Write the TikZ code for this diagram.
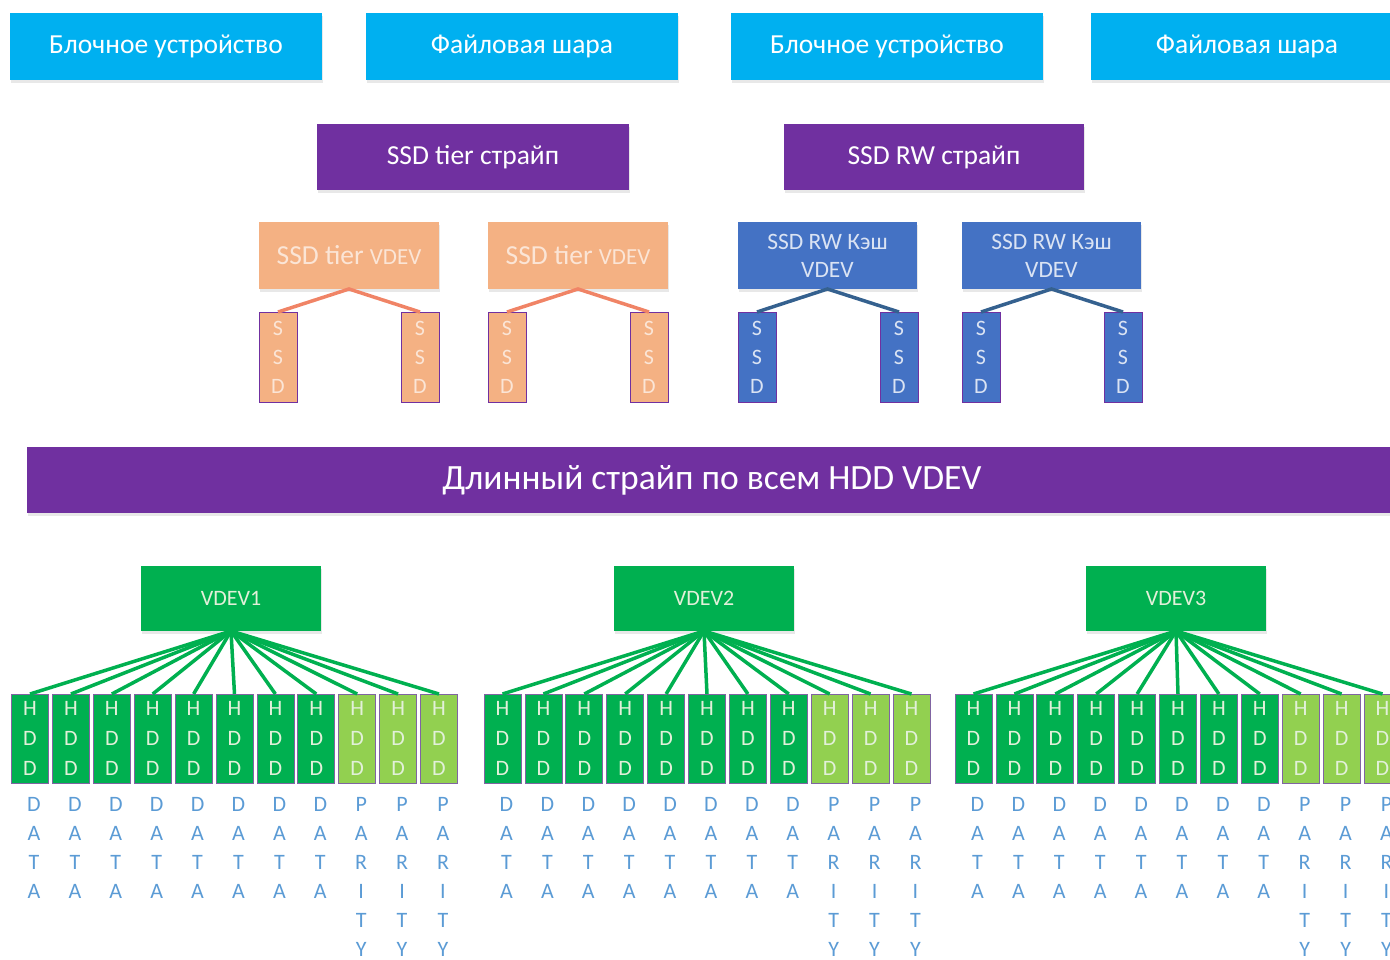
\documentclass[tikz,border=0pt]{standalone}
\usepackage{fontspec}
\setmainfont{Carlito}
\usetikzlibrary{shadows}
\definecolor{topblue}{HTML}{00B0F0}
\definecolor{purp}{HTML}{7030A0}
\definecolor{orng}{HTML}{F4B183}
\definecolor{orngline}{HTML}{F08466}
\definecolor{ssdblue}{HTML}{4472C4}
\definecolor{blueline}{HTML}{35618F}
\definecolor{grn}{HTML}{00B050}
\definecolor{lgrn}{HTML}{92D050}
\definecolor{lblblue}{HTML}{5B9BD5}
\definecolor{paleg}{HTML}{E2F0D9}
\definecolor{paleo}{HTML}{FBE5D6}
\definecolor{paleb}{HTML}{DAE3F3}
\definecolor{hddborder}{HTML}{8064A2}
\begin{document}
\begin{tikzpicture}[x=1pt,y=-1pt,
  box/.style={inner sep=0pt, outer sep=0pt, anchor=north west, align=center, text=white,
    drop shadow={shadow xshift=1pt, shadow yshift=-3pt, opacity=0.18}},
  topbox/.style={box, fill=topblue, minimum width=312pt, minimum height=67pt, font=\fontsize{27.5}{30}\selectfont},
  stripe/.style={box, fill=purp, minimum height=66pt, font=\fontsize{27.5}{30}\selectfont},
  tiervdev/.style={box, fill=orng, text=paleo, minimum width=180pt, minimum height=67pt},
  rwvdev/.style={box, fill=ssdblue, text=paleb, minimum width=179pt, minimum height=67pt, font=\fontsize{23.5}{28}\selectfont},
  ssdbox/.style={inner sep=0pt, outer sep=0pt, anchor=north west, align=center, draw=purp, line width=1pt,
    minimum width=38pt, minimum height=90pt, font=\fontsize{22}{29}\selectfont},
  tierssd/.style={ssdbox, fill=orng, text=paleo},
  rwssd/.style={ssdbox, fill=ssdblue, text=paleb},
  vdevbox/.style={box, fill=grn, text=paleg, minimum width=180pt, minimum height=65pt, font=\fontsize{22}{26}\selectfont},
  hddbox/.style={inner sep=0pt, outer sep=0pt, anchor=north west, align=center, draw=hddborder, line width=0.8pt,
    minimum width=37pt, minimum height=89pt, text=paleg, font=\fontsize{22}{30}\selectfont},
  hdddata/.style={hddbox, fill=grn},
  hddpar/.style={hddbox, fill=lgrn},
  lbl/.style={inner sep=0pt, outer sep=0pt, anchor=north, align=center, text=lblblue, font=\fontsize{22}{29}\selectfont},
  tline/.style={orngline, line width=3.5pt},
  rline/.style={blueline, line width=3.5pt},
  gline/.style={grn, line width=3.5pt}
]
\useasboundingbox (0,0) rectangle (1390,960);
\clip (0,0) rectangle (1390,960);

% top row
\node[topbox] (bd1) at (10,13) {Блочное устройство};
\node[topbox] (fs1) at (366,13) {Файловая шара};
\node[topbox] (bd2) at (731,13) {Блочное устройство};
\node[topbox] (fs2) at (1091,13) {Файловая шара};

% stripes
\node[stripe, minimum width=312pt] (tierstripe) at (317,124) {SSD tier страйп};
\node[stripe, minimum width=300pt] (rwstripe) at (784,124) {SSD RW страйп};

% SSD tier vdevs
\node[tiervdev] (tv1) at (259,222) {\fontsize{27.5}{30}\selectfont SSD tier \fontsize{23}{30}\selectfont VDEV};
\node[tiervdev] (tv2) at (488,222) {\fontsize{27.5}{30}\selectfont SSD tier \fontsize{23}{30}\selectfont VDEV};
\node[rwvdev] (rv1) at (738,222) {SSD RW Кэш\\VDEV};
\node[rwvdev] (rv2) at (962,222) {SSD RW Кэш\\VDEV};

% SSDs
\node[tierssd] (ts1) at (259,312) {S\\S\\D};
\node[tierssd] (ts2) at (401,312) {S\\S\\D};
\node[tierssd] (ts3) at (488,312) {S\\S\\D};
\node[tierssd] (ts4) at (630,312) {S\\S\\D};
\node[rwssd] (rs1) at (738,312) {S\\S\\D};
\node[rwssd] (rs2) at (880,312) {S\\S\\D};
\node[rwssd] (rs3) at (962,312) {S\\S\\D};
\node[rwssd] (rs4) at (1104,312) {S\\S\\D};

\draw[tline] (ts1.north) -- (tv1.south) -- (ts2.north);
\draw[tline] (ts3.north) -- (tv2.south) -- (ts4.north);
\draw[rline] (rs1.north) -- (rv1.south) -- (rs2.north);
\draw[rline] (rs3.north) -- (rv2.south) -- (rs4.north);

% long stripe
\node[stripe, minimum width=1370pt, minimum height=66pt, font=\fontsize{35.5}{40}\selectfont] (long) at (27,447) {Длинный страйп по всем HDD VDEV};

% VDEVs
\node[vdevbox] (v1) at (141,566) {VDEV1};
\node[vdevbox] (v2) at (614,566) {VDEV2};
\node[vdevbox] (v3) at (1086,566) {VDEV3};

% HDDs
\foreach \g/\gx in {1/11.5, 2/484, 3/955} {
  \foreach \i in {0,...,10} {
    \pgfmathsetmacro\xx{\gx+40.9*\i}
    \ifnum\i<8
      \node[hdddata] (h\g-\i) at (\xx,694) {H\\D\\D};
      \node[lbl] (l\g-\i) at ([xshift=4pt,yshift=-14pt]h\g-\i.south) {D\\A\\T\\A};
    \else
      \node[hddpar] (h\g-\i) at (\xx,694) {H\\D\\D};
      \node[lbl] (l\g-\i) at ([xshift=4pt,yshift=-14pt]h\g-\i.south) {P\\A\\R\\I\\T\\Y};
    \fi
    \draw[gline] (v\g.south) -- (h\g-\i.north);
  }
}
\end{tikzpicture}
\end{document}
